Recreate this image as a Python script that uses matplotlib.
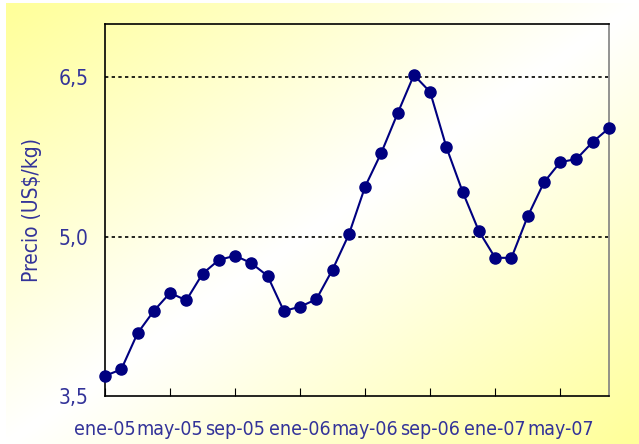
import numpy as np
import matplotlib
matplotlib.use("Agg")
from matplotlib import pyplot as plt
from matplotlib.colors import LinearSegmentedColormap

# precio mensual ene-05 .. ago-07
precio = [3.69, 3.75, 4.09, 4.30, 4.47, 4.40, 4.65, 4.78, 4.82, 4.75,
          4.63, 4.30, 4.34, 4.41, 4.69, 5.02, 5.47, 5.79, 6.16, 6.52,
          6.36, 5.84, 5.42, 5.05, 4.80, 4.80, 5.19, 5.51, 5.70, 5.73,
          5.89, 6.02]
x_labels = ["ene-05", "may-05", "sep-05", "ene-06", "may-06",
            "sep-06", "ene-07", "may-07"]
y_ticks = [3.5, 5.0, 6.5]
y_tick_labels = ["3,5", "5,0", "6,5"]

text_color = "#333399"
line_color = "#000080"
plt.rcParams['font.family'] = ['DejaVu Sans']
plt.rcParams['font.stretch'] = 'condensed'

fig = plt.figure(figsize=(6.39, 4.44), dpi=100)

# fondo degradado amarillo-blanco-amarillo en diagonal
bg = fig.add_axes([0.009, 0, 0.991, 0.993], zorder=-10)
H, W = 200, 300
yy, xx = np.mgrid[0:H, 0:W]
t = (xx / (W - 1) + yy / (H - 1)) / 2
amount = np.abs(2 * t - 1)
cmap = LinearSegmentedColormap.from_list("yw", ["#ffffff", "#ffff99"])
bg.imshow(amount, cmap=cmap, aspect="auto", vmin=0, vmax=1, interpolation="bilinear")
bg.axis("off")

ax = fig.add_axes([105 / 639, 1 - 396 / 444, (609 - 105) / 639, (396 - 24) / 444])
ax.patch.set_alpha(0)
x = np.arange(len(precio))
ax.plot(x, precio, color=line_color, linewidth=1.5, marker="o", markersize=8,
        markerfacecolor=line_color, markeredgecolor=line_color, clip_on=False, zorder=5)

for g in [5.0, 6.5]:
    ax.axhline(g, color="black", linestyle=(0, (2, 2)), linewidth=1.2, zorder=1)

ax.set_xlim(0, len(precio) - 1)
ax.set_ylim(3.5, 7.0)
ax.set_yticks(y_ticks)
ax.set_yticklabels(y_tick_labels)
ax.set_xticks(np.arange(0, len(precio), 4))
ax.set_xticklabels(x_labels)
ax.tick_params(axis="y", length=0, pad=12, labelsize=15, labelcolor=text_color)
ax.tick_params(axis="x", length=6, direction="in", pad=17, labelsize=14,
               labelcolor=text_color, color="black")
ax.xaxis.set_ticks_position("bottom")
for s in ax.spines.values():
    s.set_color("black")
    s.set_linewidth(1.2)
ax.spines["right"].set_color("#808080")

ax.set_ylabel("Precio (US$/kg)", fontsize=15, color=text_color)
ax.yaxis.set_label_coords(-0.125, 0.5)

plt.savefig("out.png", dpi=100)
plt.close()
